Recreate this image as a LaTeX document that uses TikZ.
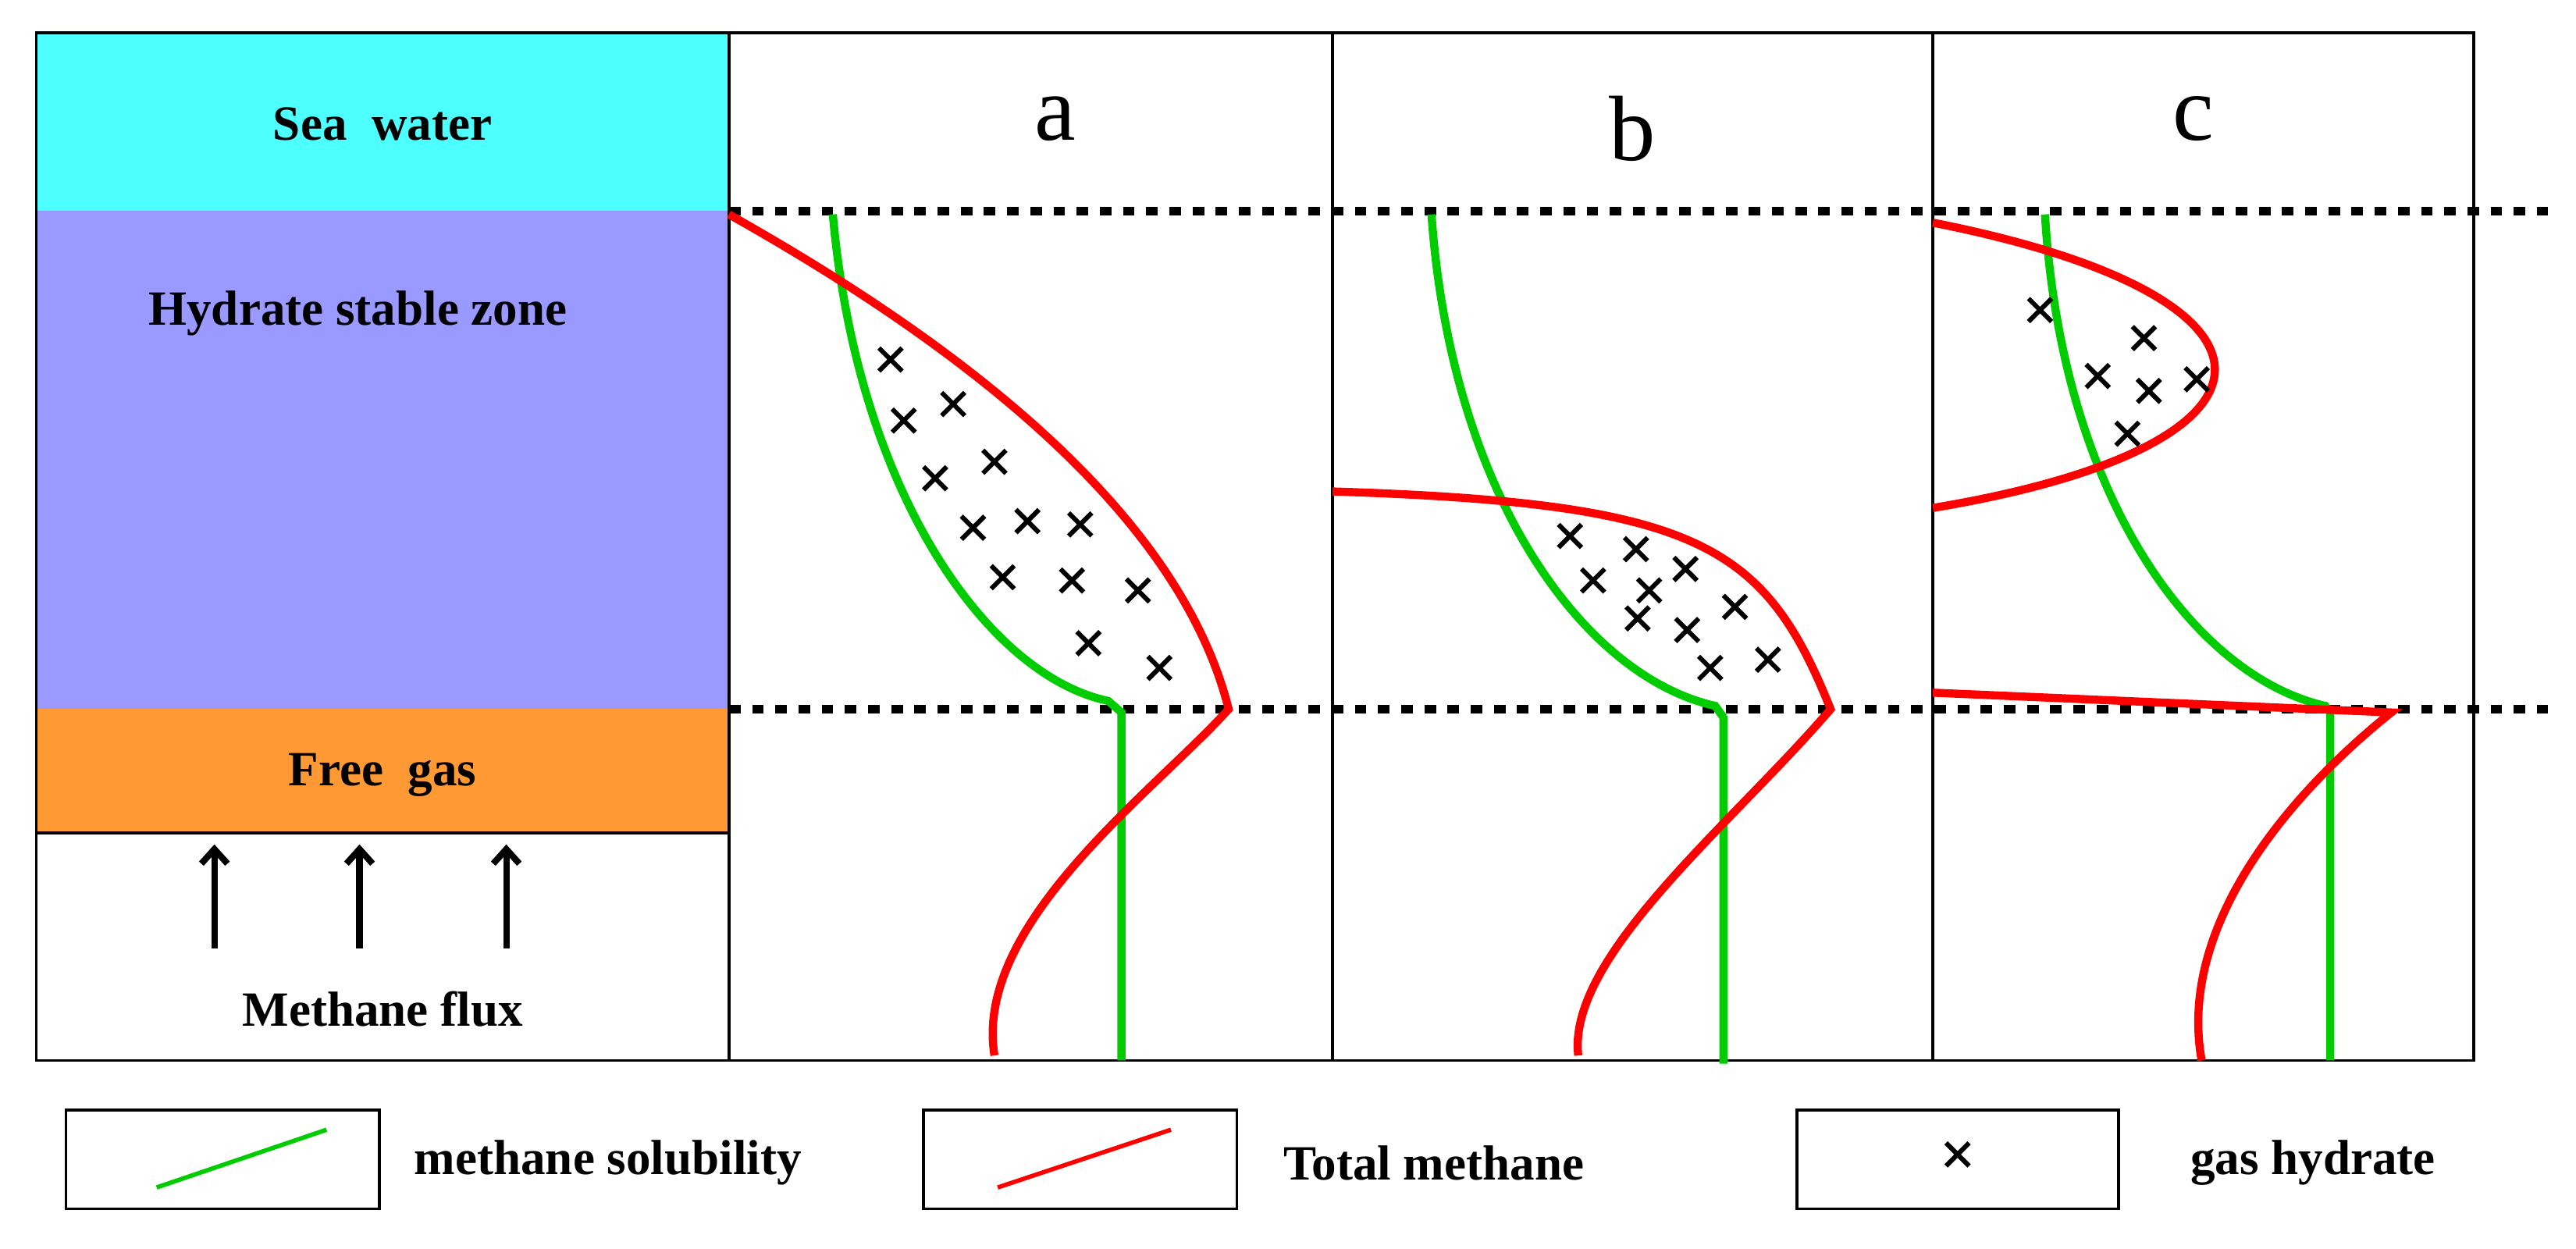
\documentclass[tikz,border=0pt]{standalone}
\usepackage{fontspec}
\setmainfont{Liberation Serif}
\usetikzlibrary{arrows.meta}
\begin{document}
\begin{tikzpicture}[x=0.02cm,y=-0.02cm,
  panel/.style={draw=black,line width=1pt},
  lbl/.style={font=\bfseries\fontsize{17}{20}\selectfont},
  big/.style={font=\fontsize{32}{36}\selectfont},
  sol/.style={draw=green!80!black,line width=2.8pt},
  tot/.style={draw=red,line width=2.8pt},
  dot/.style={line width=3pt,dash pattern=on 4pt off 4pt},
  xm/.style={line width=1.6pt}]
\newcommand{\xmark}[2]{\draw[xm] (#1-7,#2-7) -- (#1+7,#2+7) (#1-7,#2+7) -- (#1+7,#2-7);}
\useasboundingbox (0,0) rectangle (1562,757);
\definecolor{sea}{HTML}{4DFFFF}\definecolor{hyd}{HTML}{9999FF}\definecolor{gas}{HTML}{FF9933}
\fill[sea] (22,20) rectangle (442,128);
\fill[hyd] (22,128) rectangle (442,430);
\fill[gas] (22,430) rectangle (442,505);
\draw[panel] (22,20) rectangle (442,643);
\draw[panel] (22,505) -- (442,505);
\draw[panel] (442,20) rectangle (808,643);
\draw[panel] (808,20) rectangle (1172,643);
\draw[panel] (1172,20) rectangle (1500,643);
\node[lbl] (sw) at (232,75) {Sea\ \ water};
\node[lbl] (hz) at (217,190) {Hydrate stable zone};
\node[lbl] (fg) at (232,470) {Free\ \ gas};
\node[lbl] (mf) at (232,612) {Methane flux};
\foreach \x in {130,218,307}{\draw[line width=2.2pt,-{Straight Barb[length=5pt,width=9pt]}] (\x,575) -- (\x,512);}
\node[big] (la) at (640,72) {a};
\node[big] (lb) at (990,78) {b};
\node[big] (lc) at (1330,72) {c};
\draw[dot] (442,128) -- (1545,128);
\draw[dot] (442,430) -- (1545,430);
% a
\draw[sol] (505,130) .. controls (520,300) and (600,410) .. (672,425) -- (680,432) -- (680,643);
\draw[tot] (442,130) .. controls (620,230) and (720,330) .. (745,430) .. controls (700,480) and (590,560) .. (603,640);
\foreach \a/\b in {540/218,548/255,578/245,567/290,603/280,590/320,623/316,655/318,608/350,650/352,690/358,660/390,703/405}{\xmark{\a}{\b}}
% b
\draw[sol] (868,130) .. controls (880,300) and (960,410) .. (1040,428) -- (1045,435) -- (1045,645);
\draw[tot] (808,298) .. controls (1030,305) and (1070,330) .. (1110,430) .. controls (1050,500) and (950,580) .. (957,640);
\foreach \a/\b in {952/325,992/333,1022/345,966/352,1000/358,1052/368,993/375,1023/382,1037/405,1072/400}{\xmark{\a}{\b}}
% c
\draw[sol] (1240,130) .. controls (1250,300) and (1330,410) .. (1410,428) -- (1413,432) -- (1413,643);
\draw[tot] (1172,135) .. controls (1400,180) and (1400,270) .. (1172,308);
\draw[tot] (1172,420) -- (1450,432) .. controls (1390,480) and (1320,560) .. (1335,643);
\foreach \a/\b in {1237/188,1300/205,1272/228,1303/237,1332/230,1290/263}{\xmark{\a}{\b}}
% legend
\node[panel,minimum width=3.8cm,minimum height=1.2cm] (k1) at (135,703) {};
\draw[green!80!black,line width=1.5pt] (95,720) -- (198,685);
\node[lbl,anchor=west] (t1) at (245,705) {methane solubility};
\node[panel,minimum width=3.8cm,minimum height=1.2cm] (k2) at (655,703) {};
\draw[red,line width=1.5pt] (605,720) -- (710,685);
\node[lbl,anchor=west] (t2) at (772,705) {Total methane};
\node[panel,minimum width=3.9cm,minimum height=1.2cm] (k3) at (1187,703) {};
\xmark{1187}{700}
\node[lbl,anchor=west] (t3) at (1322,705) {gas hydrate};
\end{tikzpicture}
\end{document}
